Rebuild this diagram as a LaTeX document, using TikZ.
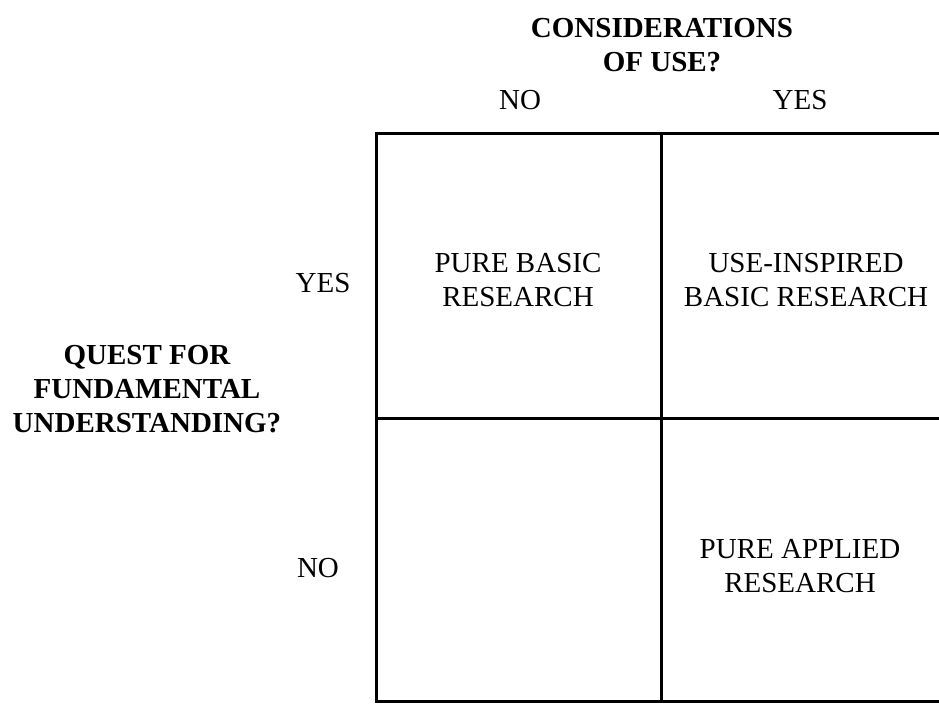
\documentclass[tikz,border=0pt]{standalone}
\usepackage{fontspec}
\setmainfont{Liberation Serif}
\begin{document}
\begin{tikzpicture}[x=1pt,y=-1pt,
  grid/.style={line width=3pt, line cap=rect},
  lbl/.style={font=\fontsize{29}{34}\selectfont, align=center, inner sep=0pt},
  blbl/.style={lbl, font=\fontsize{29}{34}\selectfont\bfseries}]
\useasboundingbox (0,0) rectangle (939,704);
\clip (0,0) rectangle (939,704);
% grid corners
\coordinate (tl) at (376,133);
\coordinate (tm) at (661,133);
\coordinate (tr) at (960,133);
\coordinate (ml) at (376,418);
\coordinate (mr) at (960,418);
\coordinate (bl) at (376,701);
\coordinate (bm) at (661,701);
\coordinate (br) at (960,701);
\draw[grid] (tr) -- (tl) -- (bl) -- (br);
\draw[grid] (tm) -- (bm);
\draw[grid] (ml) -- (mr);
% headers
\node[blbl] (cons) at (662,45) {CONSIDERATIONS\\OF USE?};
\node[lbl] (colno) at (520,100) {NO};
\node[lbl] (colyes) at (800,100) {YES};
\node[lbl] (rowyes) at (323,283) {YES};
\node[lbl] (rowno) at (318,568) {NO};
\node[blbl] (quest) at (147,389) {QUEST FOR\\FUNDAMENTAL\\UNDERSTANDING?};
% cells
\node[lbl] (pbr) at (518,280) {PURE BASIC\\RESEARCH};
\node[lbl] (uibr) at (806,280) {USE-INSPIRED\\BASIC RESEARCH};
\node[lbl] (par) at (800,566) {PURE APPLIED\\RESEARCH};
\end{tikzpicture}
\end{document}
